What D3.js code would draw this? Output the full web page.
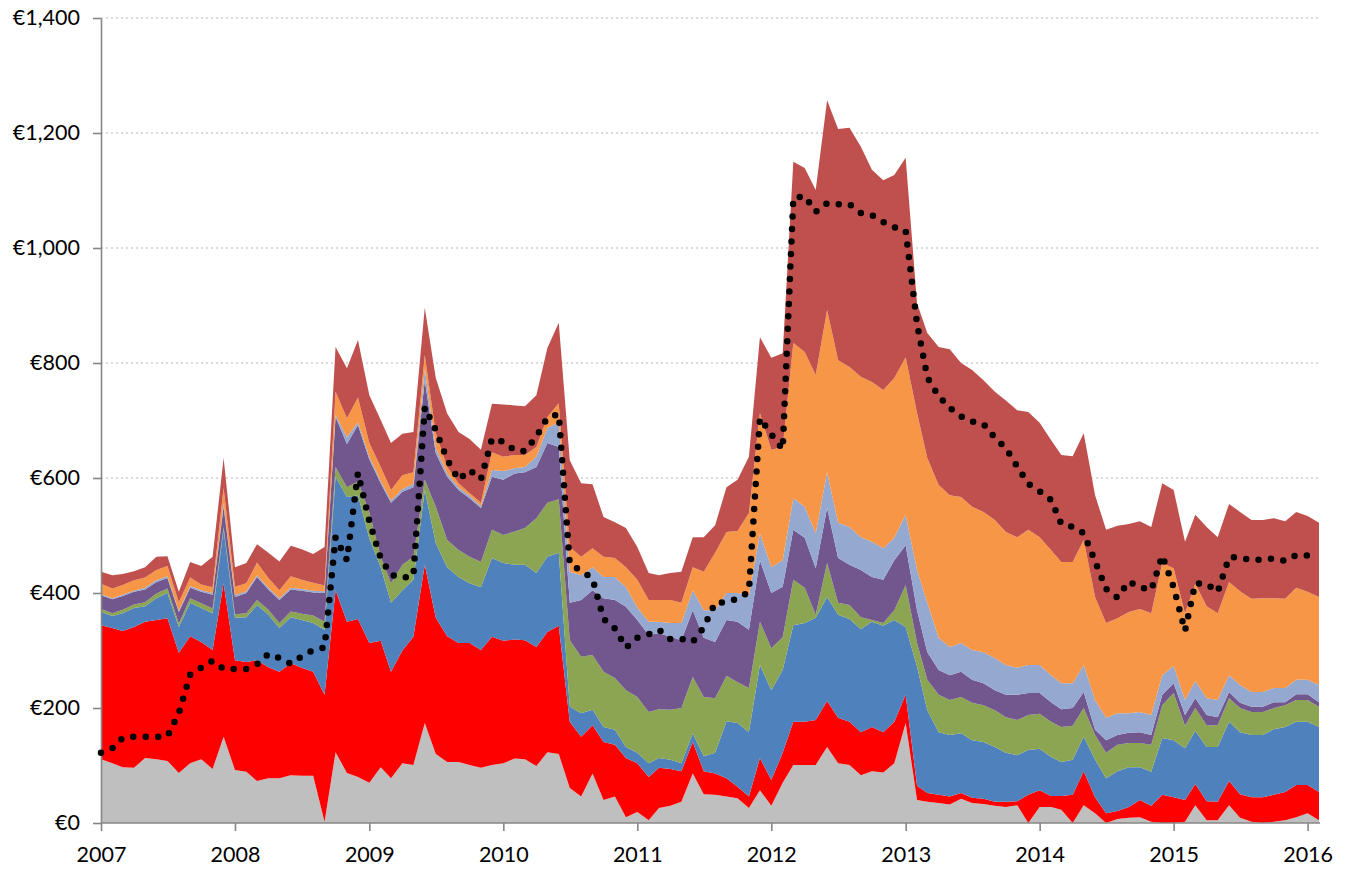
<!DOCTYPE html>
<html>
<head>
<meta charset="utf-8">
<script src="https://cdn.jsdelivr.net/npm/d3@7"></script>
<style>
  body { margin: 0; background: #fff; }
  svg text { font-family: Lato, "Liberation Sans", sans-serif; font-size: 21.5px; fill: #000; }
</style>
</head>
<body>
<svg id="chart" width="1351" height="869"></svg>
<script>
// monthly categories, Jan 2007 .. Feb 2016
const months = d3.timeMonths(new Date(2007, 0, 1), new Date(2016, 1, 2));
const yTicks = [0, 200, 400, 600, 800, 1000, 1200, 1400];

// stacked series, bottom to top (€ per month)
const greyVals = [111,104,97,96,113,111,108,87,104,111,94,150,92,89,73,78,78,83,82,82,2,
  123,87,80,70,97,78,104,101,174,120,106,106,101,96,101,104,112,111,99,123,120,
  61,46,86,40,46,10,19,5,26,30,37,86,50,49,46,43,26,57,30,70,
  101,101,101,132,104,101,83,90,88,104,174,40,37,35,32,42,35,33,30,28,
  31,0,28,28,23,0,31,17,0,7,9,10,2,0,0,2,31,5,5,31,9,2,0,2,5,10,17,5];
const redVals = [233,235,237,245,237,242,248,209,221,204,207,267,191,191,210,193,185,195,188,181,221,
  282,263,275,243,220,185,196,223,275,237,219,207,212,205,223,213,207,207,207,209,223,
  115,104,84,101,90,103,85,75,70,64,53,55,40,37,32,20,20,56,45,52,
  75,75,78,80,79,75,75,77,70,72,49,25,15,14,14,10,9,9,7,9,
  7,49,29,19,24,49,59,28,17,14,19,30,28,49,45,38,37,33,32,42,41,43,45,47,49,56,49,49];
const blueVals = [23,21,31,33,27,38,44,45,58,59,64,93,74,78,96,91,76,80,83,85,113,
  197,217,215,182,128,120,105,99,130,130,120,115,104,109,137,135,130,131,129,131,127,
  26,41,27,26,26,19,18,24,17,16,14,15,26,36,99,111,112,162,156,144,
  168,172,178,181,179,179,179,183,185,177,118,207,144,109,107,104,100,99,95,85,
  80,78,72,68,59,61,60,65,61,69,69,57,59,99,99,90,92,94,95,103,108,108,108,114,113,110,110,113];
const greenVals = [5,5,6,6,7,8,8,6,8,8,8,5,6,7,9,9,9,10,11,13,14,
  17,17,24,45,18,34,44,40,18,63,47,47,46,44,49,49,58,64,95,94,93,
  116,98,95,96,90,99,97,89,85,87,96,98,103,95,79,71,77,75,73,57,
  79,61,5,59,21,24,21,3,5,17,73,41,53,65,61,63,65,64,64,62,
  61,61,61,61,61,59,50,43,44,46,42,42,47,57,82,39,40,38,38,41,42,40,40,37,38,38,38,35];
const purpleVals = [24,24,24,22,22,20,18,20,18,20,24,35,30,35,40,35,40,38,40,40,50,
  87,75,98,92,128,140,127,121,173,93,110,104,102,94,92,96,101,97,89,104,91,
  65,99,113,128,136,145,134,134,132,127,118,116,103,98,97,105,101,107,96,88,
  87,87,81,96,78,70,82,75,75,87,69,57,48,43,43,44,40,38,35,39,
  44,38,36,34,31,31,28,9,22,17,18,19,17,18,17,19,17,18,14,11,9,9,9,10,5,10,10,8];
const lightBlueVals = [2,2,2,2,3,3,3,2,3,3,3,6,3,3,3,3,3,3,3,3,3,
  4,12,5,5,4,4,5,6,20,9,6,5,4,3,12,15,9,9,18,26,43,
  54,43,40,37,40,34,22,23,20,24,30,35,48,55,47,50,60,47,45,46,
  55,54,61,62,61,66,57,61,55,39,53,70,86,56,49,50,52,54,56,52,
  47,49,49,47,45,43,47,52,39,38,34,35,35,34,30,26,30,29,30,29,31,26,26,25,25,25,25,30];
const orangeVals = [18,17,17,18,18,18,18,15,15,10,10,27,15,14,22,17,14,20,16,14,10,
  40,33,43,24,24,18,24,20,24,26,11,7,5,6,31,25,23,21,17,19,33,
  43,32,33,35,33,35,48,38,38,40,35,40,67,100,106,108,143,209,204,197,
  270,269,275,282,283,278,279,278,275,278,274,273,252,266,264,254,249,244,240,231,
  227,235,222,218,211,211,217,179,165,165,176,179,177,195,170,151,169,160,151,162,163,162,163,156,155,160,153,153];
const darkRedVals = [21,23,19,16,18,23,17,18,27,32,53,52,34,35,32,44,50,53,53,50,67,
  78,87,100,83,82,82,72,70,82,96,93,89,94,92,84,91,86,85,90,120,140,
  151,128,111,69,62,68,57,47,43,47,54,52,60,48,78,89,98,132,160,163,
  315,320,322,365,402,416,400,369,365,353,347,191,217,240,254,233,238,229,223,229,
  221,205,199,191,186,184,186,177,162,161,153,153,150,139,136,124,120,138,132,136,138,137,136,139,135,132,132,129];

// dotted line series
const lineVals = [122,130,148,150,150,150,151,191,258,270,282,268,268,268,276,294,287,277,290,301,305,
  497,457,609,525,460,432,426,430,723,683,632,597,614,598,668,663,648,647,672,705,711,
  450,439,425,355,338,305,322,328,336,320,320,315,340,383,384,390,402,704,676,650,
  1087,1090,1063,1078,1076,1076,1061,1057,1045,1036,1030,868,775,742,722,707,698,694,670,652,
  620,590,577,562,520,515,504,455,407,392,420,410,405,465,410,334,417,416,402,462,462,457,458,460,456,466,465,461];

const keys = ["grey", "red", "blue", "green", "purple", "lightBlue", "orange", "darkRed"];
const colors = {
  grey: "#BFBFBF", red: "#FF0000", blue: "#4F81BD", green: "#8BA552",
  purple: "#72578F", lightBlue: "#95A9D0", orange: "#F79646", darkRed: "#C0504D"
};
const valueArrays = {
  grey: greyVals, red: redVals, blue: blueVals, green: greenVals,
  purple: purpleVals, lightBlue: lightBlueVals, orange: orangeVals, darkRed: darkRedVals
};

const table = months.map((m, i) => {
  const row = { date: m };
  keys.forEach(k => { row[k] = valueArrays[k][i]; });
  return row;
});

const svg = d3.select("#chart");

const x = d3.scaleTime()
  .domain([new Date(2007, 0, 1), new Date(2016, 1, 1)])
  .range([101, 1319]);
const y = d3.scaleLinear()
  .domain([0, 1400])
  .range([823, 18]);

// gridlines
svg.append("g")
  .selectAll("line")
  .data(yTicks.filter(d => d > 0))
  .enter().append("line")
  .attr("x1", 101).attr("x2", 1320)
  .attr("y1", d => y(d)).attr("y2", d => y(d))
  .attr("stroke", "#D0D0D0")
  .attr("stroke-width", 1.3)
  .attr("stroke-dasharray", "2,3");

// stacked areas
const stacked = d3.stack().keys(keys)(table);
const area = d3.area()
  .x(d => x(d.data.date))
  .y0(d => y(d[0]))
  .y1(d => y(d[1]));

svg.append("g")
  .selectAll("path")
  .data(stacked)
  .enter().append("path")
  .attr("d", area)
  .attr("fill", d => colors[d.key]);

// axes
const yAxis = svg.append("g")
  .attr("transform", "translate(101,0)")
  .call(d3.axisLeft(y)
    .tickValues(yTicks)
    .tickSize(8)
    .tickSizeOuter(0)
    .tickPadding(13)
    .tickFormat(d => "€" + d3.format(",")(d)));

const xAxis = svg.append("g")
  .attr("transform", "translate(0,823)")
  .call(d3.axisBottom(x)
    .ticks(d3.timeYear)
    .tickSize(8)
    .tickSizeOuter(0)
    .tickPadding(16)
    .tickFormat(d3.timeFormat("%Y")));

[yAxis, xAxis].forEach(g => {
  g.select(".domain").attr("stroke", "#868686").attr("stroke-width", 1.6);
  g.selectAll(".tick line").attr("stroke", "#868686").attr("stroke-width", 1.6);
  g.selectAll("text").attr("font-family", "Lato, 'Liberation Sans', sans-serif").attr("font-size", 21.5).attr("fill", "#000");
});
xAxis.select(".domain").attr("d", "M101,0H1320");

// dotted line
const line = d3.line()
  .x((d, i) => x(months[i]))
  .y(d => y(d));

svg.append("path")
  .datum(lineVals)
  .attr("d", line)
  .attr("fill", "none")
  .attr("stroke", "#000")
  .attr("stroke-width", 6.5)
  .attr("stroke-linecap", "round")
  .attr("stroke-dasharray", "0,12.5");
</script>
</body>
</html>
